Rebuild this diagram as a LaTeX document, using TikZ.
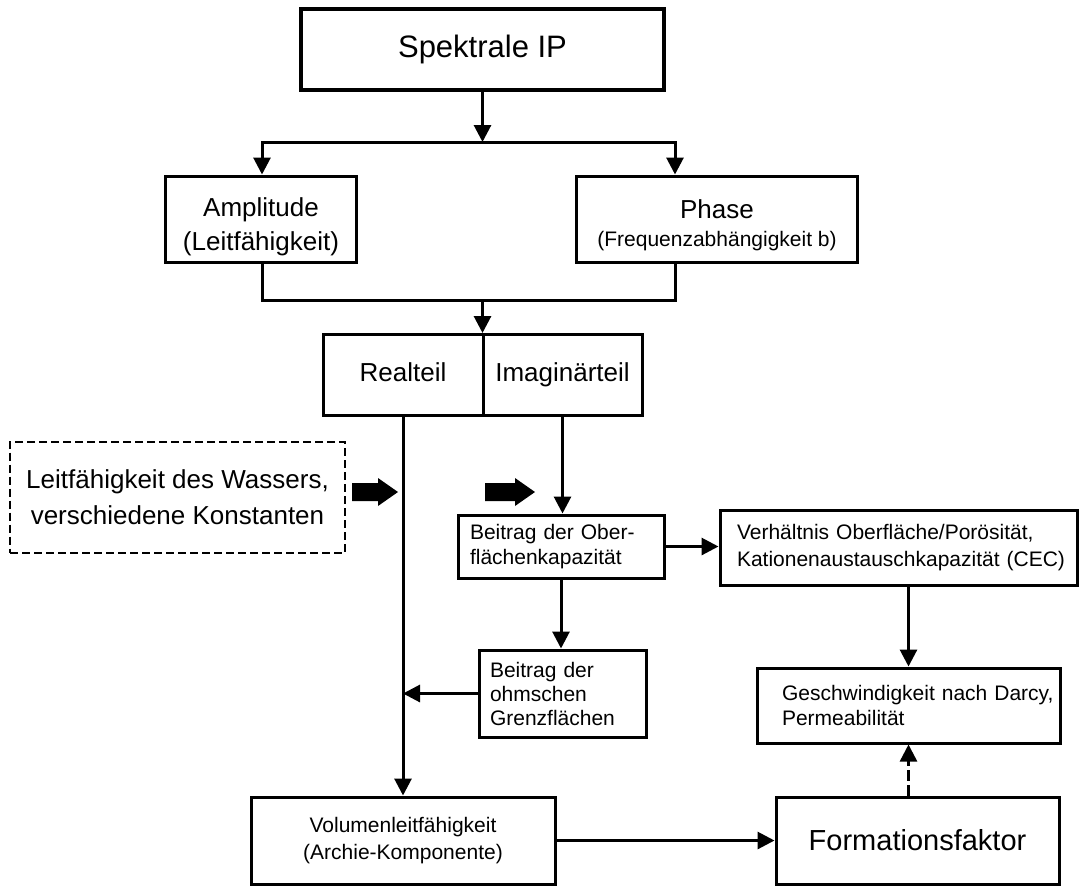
\documentclass[tikz,border=0pt]{standalone}
\usepackage{fontspec}
\setmainfont{Liberation Sans}
\usetikzlibrary{arrows.meta,calc}

\begin{document}
\begin{tikzpicture}[x=1pt,y=-1pt,
  box/.style={draw, line width=3pt, inner sep=0pt, align=center,
    font=\fontsize{26}{30}\selectfont},
  leftbox/.style={draw, line width=3pt, inner ysep=0pt, align=left,
    font=\fontsize{21}{25}\selectfont},
  conn/.style={line width=3pt},
  arr/.style={conn, -{Triangle[width=17pt,length=17pt]}},
  blockarrow/.style={fill=black},
]
\useasboundingbox (0,0) rectangle (1086,889);

% boxes
\node[box, line width=3.5pt, minimum width=363pt, minimum height=81pt,
      font=\fontsize{31}{36}\selectfont] (ip) at (482.5,49.5) {Spektrale IP};
\node[box, minimum width=191pt, minimum height=86pt,
      font=\fontsize{26}{34}\selectfont] (amp) at (261,219)
      {\rule{0pt}{35pt}Amplitude\\(Leitfähigkeit)};
\node[box, minimum width=281pt, minimum height=86pt,
      font=\fontsize{26}{28}\selectfont] (phase) at (717,219)
      {\rule{0pt}{31pt}Phase\\{\fontsize{21}{28}\selectfont (Frequenzabhängigkeit b)}};
\node[box, minimum width=160pt, minimum height=81pt, text height=19pt, text depth=5.5pt]
      (real) at (403,375) {Realteil};
\node[box, minimum width=159pt, minimum height=81pt, text height=19pt, text depth=5.5pt]
      (imag) at (562.5,375) {Imaginärteil};
\node[box, line width=2pt, dash pattern=on 8pt off 4pt, minimum width=335pt,
      minimum height=111pt, font=\fontsize{26}{36}\selectfont] (water) at (177.5,497)
      {Leitfähigkeit des Wassers,\\verschiedene Konstanten};
\node[leftbox, text width=182pt, inner xsep=12pt, minimum height=63pt] (ober) at (561,546.5)
      {\mbox{Beitrag der Ober-}\\\mbox{flächenkapazität}};
\node[leftbox, text width=323pt, inner xsep=17pt, minimum height=75pt,
      font=\fontsize{21}{27}\selectfont] (verh) at (898.5,547.5)
      {\mbox{Verhältnis Oberfläche/Porösität,}\\\mbox{Kationenaustauschkapazität (CEC)}};
\node[leftbox, text width=145pt, inner xsep=11pt, minimum height=87pt,
      font=\fontsize{21}{24}\selectfont] (ohm) at (562.5,693.5)
      {Beitrag der\\ohmschen\\Grenzflächen};
\node[leftbox, text width=253pt, inner xsep=25pt, minimum height=75pt] (darcy) at (908.5,705.5)
      {\mbox{Geschwindigkeit nach Darcy,}\\\mbox{Permeabilität}};
\node[box, minimum width=304pt, minimum height=87pt,
      font=\fontsize{21}{27}\selectfont] (vol) at (403,840.5)
      {Volumenleitfähigkeit\\(Archie-Komponente)};
\node[box, minimum width=283pt, minimum height=87pt,
      font=\fontsize{29}{33}\selectfont] (form) at (917.5,840.5) {Formationsfaktor};

% branching under the top box
\coordinate (split) at (482.5,142);
\coordinate (splitL) at (262,142);
\coordinate (splitR) at (675,142);
\draw[arr] (ip.south) -- (split);
\draw[conn, line cap=rect] (splitL) -- (splitR);
\draw[arr] (splitL) -- (splitL |- amp.north);
\draw[arr] (splitR) -- (splitR |- phase.north);

% merging into real / imaginary part
\coordinate (joinL) at (262,300);
\coordinate (joinR) at (675,300);
\coordinate (join) at (482.5,300);
\draw[conn, line join=miter] (joinL |- amp.south) -- (joinL) -- (joinR) -- (joinR |- phase.south);
\draw[arr] (join) -- (join |- real.north);

% lower flow
\draw[arr] (real.south) -- (real.south |- vol.north);
\draw[arr] (imag.south) -- (imag.south |- ober.north);
\draw[arr] (ober.east) -- (ober.east -| verh.west);
\draw[arr] (ober.south) -- (ober.south |- ohm.north);
\draw[arr] (ohm.west) -- (ohm.west -| real.south);
\draw[arr] (darcy.north |- verh.south) -- (darcy.north);
\draw[arr, line width=2.5pt, dash pattern=on 11pt off 4pt] (darcy.south |- form.north) -- (darcy.south);
\draw[arr] (vol.east) -- (form.west);

% block arrows
\fill[blockarrow] (352,483) -- (378,483) -- (378,478) -- (398,492) -- (378,506) -- (378,501) -- (352,501) -- cycle;
\fill[blockarrow] (485,483) -- (515,483) -- (515,478) -- (535,492) -- (515,506) -- (515,501) -- (485,501) -- cycle;
\end{tikzpicture}
\end{document}
